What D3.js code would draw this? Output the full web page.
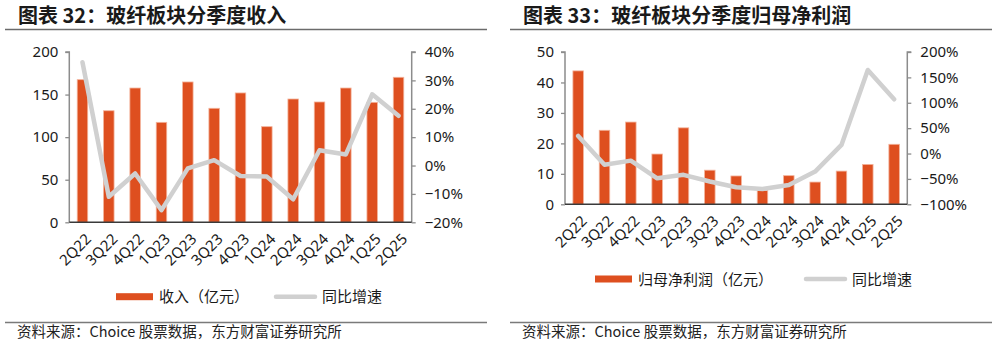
<!DOCTYPE html>
<html>
<head>
<meta charset="utf-8">
<script src="https://cdn.jsdelivr.net/npm/d3@7"></script>
<style>
  html, body { margin: 0; padding: 0; background: #fff; }
  svg { display: block; }
</style>
</head>
<body>
<svg id="chart" width="997" height="346"></svg>
<script>
// ---------- DATA ----------
const quarters = ["2Q22","3Q22","4Q22","1Q23","2Q23","3Q23","4Q23","1Q24","2Q24","3Q24","4Q24","1Q25","2Q25"];

const revenue = [167.5, 131, 157.7, 117.4, 164.8, 133.9, 151.9, 112.3, 144.8, 141.3, 157.7, 140.9, 170.3];
const revenueYoY = [36.4, -11.0, -2.8, -15.7, -1.0, 1.9, -3.7, -3.9, -11.9, 5.4, 3.9, 25.1, 17.5];

const profit = [43.8, 24.3, 27.0, 16.5, 25.1, 11.2, 9.3, 4.5, 9.4, 7.3, 10.9, 13.1, 19.7];
const profitYoY = [34.6, -21.9, -14.0, -48.8, -42.0, -55.0, -66.4, -70.0, -61.9, -35.6, 16.9, 164.6, 106.8];

const leftTicks1 = [0, 50, 100, 150, 200];
const rightTicks1 = [-20, -10, 0, 10, 20, 30, 40];
const leftTicks2 = [0, 10, 20, 30, 40, 50];
const rightTicks2 = [-100, -50, 0, 50, 100, 150, 200];

const titles = ["图表 32：玻纤板块分季度收入", "图表 33：玻纤板块分季度归母净利润"];
const barLegends = ["收入（亿元）", "归母净利润（亿元）"];
const lineLegend = "同比增速";
const sourceText = "资料来源：Choice 股票数据，东方财富证券研究所";

// ---------- STYLE ----------
const BAR_COLOR = "#DE4F1F";
const BAR_EDGE = "#F3B39B";
const LINE_COLOR = "#D0D0D0";
const AXIS_GRAY = "#8C8C8C";
const TEXT = "#1a1a1a";
const NUM_FONT = "'Noto Sans', 'DejaVu Sans', sans-serif";
const CJK_FONT = "'Noto Sans CJK SC', 'Noto Sans', sans-serif";

const svg = d3.select("#chart");
svg.append("rect").attr("width", 997).attr("height", 346).attr("fill", "#fff");

const pctFmt = d => d3.format("d")(d).replace("-", "\u2212") + "%";

function drawPanel(cfg) {
  const g = svg.append("g");

  // Title
  g.append("text")
    .attr("x", cfg.titleX).attr("y", 23.4)
    .attr("font-family", CJK_FONT).attr("font-weight", "bold")
    .attr("font-size", 20).attr("fill", TEXT)
    .text(cfg.title);
  g.append("line")
    .attr("x1", cfg.ruleX0).attr("x2", cfg.ruleX1)
    .attr("y1", 29.5).attr("y2", 29.5)
    .attr("stroke", "#6b6b6b").attr("stroke-width", 1.3);

  // Footer
  g.append("line")
    .attr("x1", cfg.ruleX0).attr("x2", cfg.ruleX1)
    .attr("y1", 322.5).attr("y2", 322.5)
    .attr("stroke", "#7a7a7a").attr("stroke-width", 1.3);
  g.append("text")
    .attr("x", cfg.footX).attr("y", 337)
    .attr("font-family", CJK_FONT).attr("font-size", 14.5).attr("fill", "#222")
    .text(sourceText);

  const x = d3.scaleBand().domain(quarters).range([cfg.x0, cfg.x1]).paddingInner(0).paddingOuter(0);
  const yL = d3.scaleLinear().domain(cfg.leftDomain).range([cfg.yBottom, cfg.yTop]);
  const yR = d3.scaleLinear().domain(cfg.rightDomain).range([cfg.yBottom, cfg.yTop]);

  // Bars
  const bw = 10.5;
  g.append("g").selectAll("rect").data(cfg.bars).join("rect")
    .attr("x", (d, i) => x(quarters[i]) + x.bandwidth() / 2 - bw / 2)
    .attr("width", bw)
    .attr("y", d => yL(d))
    .attr("height", d => yL(0) - yL(d))
    .attr("fill", BAR_COLOR)
    .attr("stroke", BAR_EDGE).attr("stroke-width", 0.8);

  // Line
  const line = d3.line()
    .x((d, i) => x(quarters[i]) + x.bandwidth() / 2)
    .y(d => yR(d));
  g.append("path").datum(cfg.yoy)
    .attr("d", line)
    .attr("fill", "none")
    .attr("stroke", LINE_COLOR).attr("stroke-width", 4.5)
    .attr("stroke-linejoin", "round").attr("stroke-linecap", "round");

  // Left axis
  const axL = g.append("g").attr("transform", `translate(${cfg.x0},0)`)
    .call(d3.axisLeft(yL).tickValues(cfg.leftTicks).tickSize(4).tickPadding(7).tickFormat(d3.format("d")));
  axL.select(".domain").attr("stroke", AXIS_GRAY).attr("stroke-width", 1.5)
    .attr("d", `M-4,${cfg.yTop}H0V${cfg.yBottom}`);
  axL.selectAll(".tick line").attr("stroke", AXIS_GRAY).attr("stroke-width", 1.3);
  axL.selectAll(".tick text").attr("font-family", NUM_FONT).attr("font-size", 15).attr("fill", TEXT);

  // Right axis
  const axR = g.append("g").attr("transform", `translate(${cfg.x1},0)`)
    .call(d3.axisRight(yR).tickValues(cfg.rightTicks).tickSize(4).tickPadding(9).tickFormat(pctFmt));
  axR.select(".domain").attr("stroke", AXIS_GRAY).attr("stroke-width", 1.5)
    .attr("d", `M4,${cfg.yTop}H0V${cfg.yBottom}`);
  axR.selectAll(".tick line").attr("stroke", AXIS_GRAY).attr("stroke-width", 1.3);
  axR.selectAll(".tick text").attr("font-family", NUM_FONT).attr("font-size", 15).attr("fill", TEXT);

  // Bottom axis
  const axB = g.append("g").attr("transform", `translate(0,${cfg.yBottom})`)
    .call(d3.axisBottom(x).tickSize(0).tickPadding(0));
  axB.select(".domain").attr("stroke", "#3a3a3a").attr("stroke-width", 1.5)
    .attr("d", `M${cfg.x0},0H${cfg.x1}`);
  axB.selectAll(".tick text")
    .attr("font-family", NUM_FONT).attr("font-size", 15).attr("fill", TEXT)
    .attr("text-anchor", "end")
    .attr("transform", "translate(6,14) rotate(-45)")
    .attr("dy", "0.35em").attr("y", 0).attr("x", 0);

  // Legend
  const ly = cfg.legendY;
  g.append("rect").attr("x", cfg.legBarX).attr("y", ly - 3.5).attr("width", 37).attr("height", 7)
    .attr("fill", BAR_COLOR);
  g.append("text").attr("x", cfg.legBarX + 43).attr("y", ly + 5.5)
    .attr("font-family", CJK_FONT).attr("font-size", 15).attr("fill", TEXT)
    .text(cfg.barLegend);
  g.append("line").attr("x1", cfg.legLineX).attr("x2", cfg.legLineX + 39)
    .attr("y1", ly).attr("y2", ly)
    .attr("stroke", LINE_COLOR).attr("stroke-width", 4.5).attr("stroke-linecap", "round");
  g.append("text").attr("x", cfg.legLineX + 46).attr("y", ly + 5.5)
    .attr("font-family", CJK_FONT).attr("font-size", 15).attr("fill", TEXT)
    .text(lineLegend);
}

drawPanel({
  title: titles[0], titleX: 18, ruleX0: 5, ruleX1: 487, footX: 17,
  x0: 69.3, x1: 411.7, yTop: 52, yBottom: 222.3,
  leftDomain: [0, 200], rightDomain: [-20, 40],
  leftTicks: leftTicks1, rightTicks: rightTicks1,
  bars: revenue, yoy: revenueYoY, barLegend: barLegends[0],
  legendY: 296.7, legBarX: 116, legLineX: 276
});

drawPanel({
  title: titles[1], titleX: 523, ruleX0: 510, ruleX1: 992, footX: 522,
  x0: 565, x1: 907.3, yTop: 52, yBottom: 204.3,
  leftDomain: [0, 50], rightDomain: [-100, 200],
  leftTicks: leftTicks2, rightTicks: rightTicks2,
  bars: profit, yoy: profitYoY, barLegend: barLegends[1],
  legendY: 279, legBarX: 595, legLineX: 806
});
</script>
</body>
</html>
